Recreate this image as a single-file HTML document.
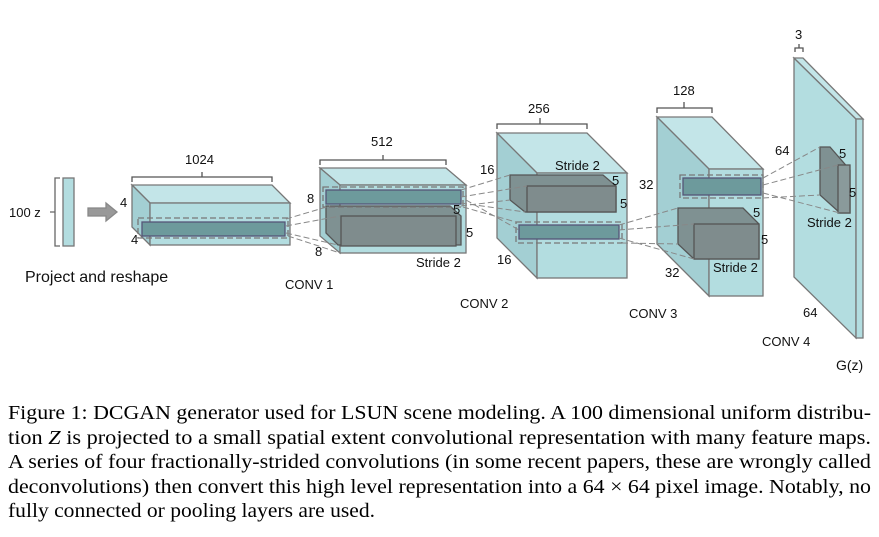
<!DOCTYPE html>
<html><head><meta charset="utf-8"><style>
html,body{margin:0;padding:0;background:#fff;}
svg{display:block;}
.s{font-family:"Liberation Sans",sans-serif;font-size:13px;fill:#111;}
.c{font-family:"Liberation Serif",serif;font-size:19.5px;fill:#000;}
</style></head><body>
<svg width="879" height="537" viewBox="0 0 879 537">
<g stroke="#777" stroke-width="1.3">
<rect x="63" y="178" width="11" height="68" fill="#b3dde0"/>
<path d="M60 178 H55 V246 H60 M55 212 H50" fill="none" stroke="#666"/>
<polygon points="88,208 106,208 106,203 117,212 106,221 106,216 88,216" fill="#999" stroke="#888"/>

<polygon points="132,185 272,185 290,203 150,203" fill="#c3e5e8"/>
<polygon points="132,185 150,203 150,245 132,227" fill="#a3cfd3"/>
<rect x="150" y="203" width="140" height="42" fill="#b3dde0"/>
<rect x="142" y="222" width="143" height="14" fill="#6d9a9c" stroke="#557"/>
<rect x="138" y="218" width="150" height="20" fill="none" stroke-dasharray="6,3"/>
<path d="M132 182 V177 H272 V182 M202 177 V172" fill="none" stroke="#555"/>

<polygon points="320,168 446,168 466,185 340,185" fill="#c3e5e8"/>
<polygon points="320,168 340,185 340,253 320,236" fill="#a3cfd3"/>
<rect x="340" y="185" width="126" height="68" fill="#b3dde0"/>
<polygon points="326,206 450,206 461,216 461,245 338,245 326,233" fill="#7f9192" stroke="#555"/>
<rect x="341" y="216" width="115" height="30" fill="#7f8c8d" stroke="#555"/>
<rect x="326" y="190" width="135" height="14" fill="#6d9a9c" stroke="#557"/>
<rect x="323" y="187" width="140" height="20" fill="none" stroke-dasharray="6,3"/>
<path d="M320 165 V160 H446 V165 M383 160 V155" fill="none" stroke="#555"/>

<polygon points="497,133 587,133 627,173 537,173" fill="#c3e5e8"/>
<polygon points="497,133 537,173 537,278 497,238" fill="#a3cfd3"/>
<rect x="537" y="173" width="90" height="105" fill="#b3dde0"/>
<polygon points="510,175 603,175 616,186 616,212 525,212 510,200" fill="#7f9192" stroke="#555"/>
<rect x="527" y="186" width="89" height="26" fill="#7f8c8d" stroke="#555"/>
<rect x="519" y="225" width="100" height="14" fill="#6d9a9c" stroke="#557"/>
<rect x="516" y="222" width="106" height="21" fill="none" stroke-dasharray="6,3"/>
<path d="M497 129 V124 H587 V129 M540 124 V118" fill="none" stroke="#555"/>

<polygon points="657,117 712,117 763,169 709,169" fill="#c3e5e8"/>
<polygon points="657,117 709,169 709,296 657,244" fill="#a3cfd3"/>
<rect x="709" y="169" width="54" height="127" fill="#b3dde0"/>
<rect x="683" y="178" width="78" height="17" fill="#6d9a9c" stroke="#557"/>
<rect x="680" y="175" width="83" height="23" fill="none" stroke-dasharray="6,3"/>
<polygon points="678,208 743,208 759,224 759,259 694,259 678,244" fill="#7f9192" stroke="#555"/>
<rect x="694" y="224" width="65" height="35" fill="#7f8c8d" stroke="#555"/>
<path d="M657 113 V108 H712 V113 M684 108 V102" fill="none" stroke="#555"/>

<polygon points="794,58 856,119 856,338 794,277" fill="#b3dde0"/>
<polygon points="794,58 803,58 863,119 856,119" fill="#c3e5e8"/>
<rect x="856" y="119" width="7" height="219" fill="#b3dde0"/>
<polygon points="820,147 830,147 850,170 850,213 840,213 820,195" fill="#7f9192" stroke="#555"/>
<rect x="838" y="165" width="12" height="48" fill="#8a9a9b" stroke="#555"/>
<path d="M795 52 V48 H803 V52 M799 48 V44" fill="none" stroke="#555"/>
</g>

<g stroke="#888" stroke-width="1" stroke-dasharray="6,3" fill="none">
<path d="M286 219 L330 206 M286 226 L340 216 M286 233 L338 245 M288 236 L340 253"/>
<path d="M461 190 L510 175 M461 197 L527 186 M461 203 L525 212 M461 206 L510 200"/>
<path d="M619 225 L678 208 M619 230 L694 224 M619 238 L694 259 M622 243 L678 244"/>
<path d="M763 178 L820 147 M763 185 L838 165 M763 193 L840 213 M763 198 L820 195"/>
<path d="M463 207 L516 222 M466 200 L519 230"/>
</g>

<g class="s">
<text x="9" y="217">100 z</text>
<text x="185" y="164">1024</text>
<text x="120" y="207">4</text>
<text x="131" y="244">4</text>
<text x="371" y="146">512</text>
<text x="307" y="203">8</text>
<text x="315" y="256">8</text>
<text x="453" y="214">5</text>
<text x="466" y="237">5</text>
<text x="416" y="267">Stride 2</text>
<text x="285" y="289">CONV 1</text>
<text x="528" y="113">256</text>
<text x="480" y="174">16</text>
<text x="555" y="170">Stride 2</text>
<text x="612" y="185">5</text>
<text x="620" y="208">5</text>
<text x="497" y="264">16</text>
<text x="460" y="308">CONV 2</text>
<text x="673" y="95">128</text>
<text x="639" y="189">32</text>
<text x="753" y="217">5</text>
<text x="761" y="244">5</text>
<text x="713" y="272">Stride 2</text>
<text x="665" y="277">32</text>
<text x="629" y="318">CONV 3</text>
<text x="795" y="39">3</text>
<text x="775" y="155">64</text>
<text x="839" y="158">5</text>
<text x="849" y="197">5</text>
<text x="807" y="227">Stride 2</text>
<text x="803" y="317">64</text>
<text x="762" y="346">CONV 4</text>
<text x="836" y="370" style="font-size:14px">G(z)</text>
<text x="25" y="282" style="font-size:16px">Project and reshape</text>
</g>

<g class="c">
<text x="8" y="419" textLength="863" lengthAdjust="spacingAndGlyphs">Figure 1: DCGAN generator used for LSUN scene modeling. A 100 dimensional uniform distribu-</text>
<text x="8" y="444" textLength="863" lengthAdjust="spacingAndGlyphs">tion <tspan font-style="italic">Z</tspan> is projected to a small spatial extent convolutional representation with many feature maps.</text>
<text x="8" y="468" textLength="863" lengthAdjust="spacingAndGlyphs">A series of four fractionally-strided convolutions (in some recent papers, these are wrongly called</text>
<text x="8" y="493" textLength="863" lengthAdjust="spacingAndGlyphs">deconvolutions) then convert this high level representation into a 64 × 64 pixel image. Notably, no</text>
<text x="8" y="517" textLength="367" lengthAdjust="spacingAndGlyphs">fully connected or pooling layers are used.</text>
</g>
</svg>
</body></html>
